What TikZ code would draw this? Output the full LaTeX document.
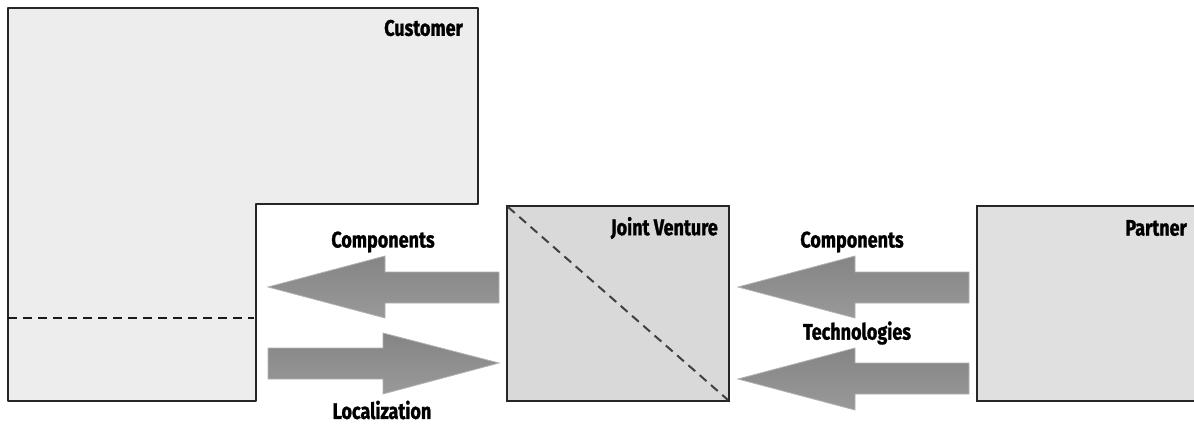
\documentclass[tikz,border=0pt]{standalone}
\usepackage{fontspec}
\setmainfont[FakeStretch=0.8,FakeBold=1.2]{Fira Sans}
\begin{document}
\begin{tikzpicture}[x=1pt,y=-1pt,
  box/.style={draw=black!85,line width=2.6pt},
  lbl/.style={font=\bfseries\fontsize{22.5}{24}\selectfont,inner sep=0pt,text=black},
  dsh/.style={line width=2pt,dash pattern=on 9pt off 6pt},
  barrow/.style={draw=black!30,line width=0.8pt,top color=black!48,bottom color=black!40}]
\clip (0,0) rectangle (1194,423);
\fill[white] (0,0) rectangle (1194,423);
% Customer
\draw[box,fill=black!7,line join=round] (8,8) -- (478,8) -- (478,204) -- (256,204) -- (256,401) -- (8,401) -- cycle;
\draw[dsh,black!90] (8,318) -- (254,318);
\node[lbl,anchor=east] (cust) at (463,28) {Customer};
% Joint venture
\draw[box,fill=black!15] (507,206) rectangle (729,401);
\coordinate (jvtl) at (508,207);
\coordinate (jvbr) at (728,400);
\draw[dsh,black!75] (jvtl) -- (jvbr);
\node[lbl,anchor=east] (jv) at (718,228) {Joint Venture};
% Partner
\draw[box,fill=black!12] (977,206) rectangle (1210,401);
\node[lbl,anchor=east] (partner) at (1187,228) {Partner};
% arrows
\draw[barrow] (499,272) -- (385,272) -- (385,256) -- (268,287) -- (385,318) -- (385,303) -- (499,303) -- cycle;
\draw[barrow] (268,348) -- (383,348) -- (383,333) -- (499,363) -- (383,394) -- (383,379) -- (268,379) -- cycle;
\draw[barrow] (969,272) -- (855,272) -- (855,256) -- (738,287) -- (855,318) -- (855,303) -- (969,303) -- cycle;
\draw[barrow] (969,363) -- (855,363) -- (855,348) -- (738,379) -- (855,410) -- (855,394) -- (969,394) -- cycle;
% labels
\node[lbl] (comp1) at (383,242) {Components};
\node[lbl] (loc) at (382,410) {Localization};
\node[lbl] (comp2) at (852,242) {Components};
\node[lbl] (tech) at (857,333) {Technologies};
\end{tikzpicture}
\end{document}
